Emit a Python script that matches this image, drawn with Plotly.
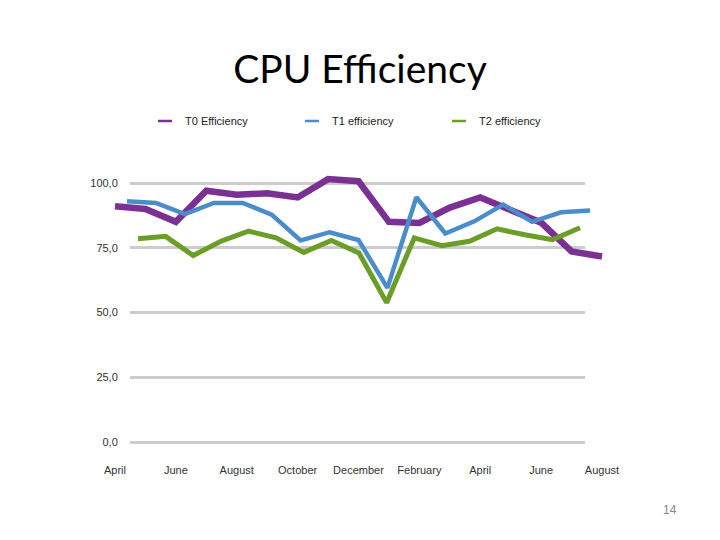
import plotly.graph_objects as go

months = ["April", "May", "June", "July", "August", "September", "October",
          "November", "December", "January", "February", "March", "April",
          "May", "June", "July", "August"]
t0_eff = [91.0, 90.0, 85.0, 97.0, 95.5, 96.0, 94.4, 101.5, 100.7, 85.0, 84.6,
          90.5, 94.4, 89.7, 84.7, 73.6, 71.6]
t1_eff = [93.0, 92.3, 88.0, 92.3, 92.3, 87.8, 77.8, 81.0, 78.0, 59.5, 94.5,
          80.5, 85.2, 91.7, 85.0, 88.7, 89.4]
t2_eff = [78.5, 79.4, 72.0, 77.5, 81.4, 78.8, 73.2, 77.8, 73.0, 53.8, 78.8,
          75.8, 77.5, 82.3, 80.0, 78.1, 82.7]
y_ticks = [0, 25, 50, 75, 100]

series = [
    ("T0 Efficiency", t0_eff, "#7B3194", 6.5),
    ("T1 efficiency", t1_eff, "#4B8DCA", 4.5),
    ("T2 efficiency", t2_eff, "#6A9E28", 5),
]

W, H = 720, 540
OFF = 8  # page body margin
idx = list(range(len(months)))


def fx(px):
    return (px - OFF) / W


def fy(py):
    return 1 - (py - OFF) / H


# y geometry (window px): value 0 at py=442, 100 at py=183
Y0, Y100 = 442.0, 183.0
ppu = (Y0 - Y100) / 100.0
YMIN, YMAX = -2.0, 105.0
y_dom = [fy(Y0 + (0 - YMIN) * ppu), fy(Y0 - YMAX * ppu)]

# depth offsets (3D look): start/end pixel of each series
x_spans = [(115, 602), (127, 590), (138, 580)]
pad = 0.3
n = len(months) - 1

tick_font = dict(family="Liberation Sans, Arial", size=11, color="#333333")

fig = go.Figure()

# grid subplot (x / y)
fig.add_trace(go.Scatter(x=[0, 1], y=[None, None], xaxis="x", yaxis="y",
                         showlegend=False, hoverinfo="skip"))

layout_axes = {}
line_traces = []
for k, ((name, vals, color, lw), (a, b)) in enumerate(zip(series, x_spans)):
    xn = k + 2
    step = (b - a) / n
    dom = [fx(a - pad * step), fx(b + pad * step)]
    layout_axes[f"xaxis{xn}"] = dict(
        type="linear",
        domain=dom, range=[-pad, n + pad], anchor=f"y{xn}",
        showgrid=False, zeroline=False, showline=False,
        showticklabels=(k == 0),
        tickvals=idx[::2], ticktext=months[::2],
        ticks="outside" if k == 0 else "", ticklen=13,
        tickcolor="rgba(0,0,0,0)",
        tickfont=tick_font,
    )
    layout_axes[f"yaxis{xn}"] = dict(
        type="linear",
        domain=y_dom, range=[YMIN, YMAX], anchor=f"x{xn}", visible=False,
    )
    line_traces.append(go.Scatter(
        x=idx, y=vals, mode="lines", name=name,
        line=dict(color=color, width=lw, shape="linear"),
        xaxis=f"x{xn}", yaxis=f"y{xn}", showlegend=False,
    ))

# back series first
for tr in reversed(line_traces):
    fig.add_trace(tr)

# legend entries (short dash markers)
for name, vals, color, lw in series:
    fig.add_trace(go.Scatter(
        x=[None], y=[None], mode="markers", name=name,
        marker=dict(symbol="line-ew", size=10,
                    line=dict(color=color, width=2.5)),
        xaxis="x", yaxis="y", showlegend=True,
    ))

fig.update_layout(
    width=W, height=H,
    margin=dict(l=0, r=0, t=0, b=0, autoexpand=False),
    paper_bgcolor="white", plot_bgcolor="rgba(0,0,0,0)",
    separators=",.",
    xaxis=dict(type="linear", domain=[fx(130), fx(585)], range=[0, 1],
               visible=False, anchor="y"),
    yaxis=dict(type="linear", domain=y_dom, range=[YMIN, YMAX], anchor="x",
               tickmode="array", tickvals=y_ticks,
               ticktext=[f"{v:.1f}".replace(".", ",") for v in y_ticks],
               showgrid=True, gridcolor="#CCCCCC", gridwidth=2.5,
               zeroline=False, showline=False,
               ticks="outside", ticklen=9, tickcolor="rgba(0,0,0,0)",
               tickfont=tick_font),
    **layout_axes,
    showlegend=True,
    legend=dict(orientation="h", x=fx(145), y=fy(121), yanchor="middle",
                xanchor="left", entrywidth=102, entrywidthmode="pixels",
                font=dict(family="Liberation Sans, Arial", size=11,
                          color="#222222"),
                bgcolor="rgba(0,0,0,0)"),
    title=dict(text="CPU Efficiency", x=fx(360), xanchor="center",
               y=fy(69), yanchor="middle",
               font=dict(family="Lato, Open Sans, sans-serif", size=39,
                         color="#000000")),
    annotations=[dict(text="14", x=fx(670), y=fy(510), xref="paper",
                      yref="paper", xanchor="center", yanchor="middle",
                      showarrow=False,
                      font=dict(family="Liberation Sans, Arial", size=12,
                                color="#888888"))],
)

fig.write_html("out.html")
